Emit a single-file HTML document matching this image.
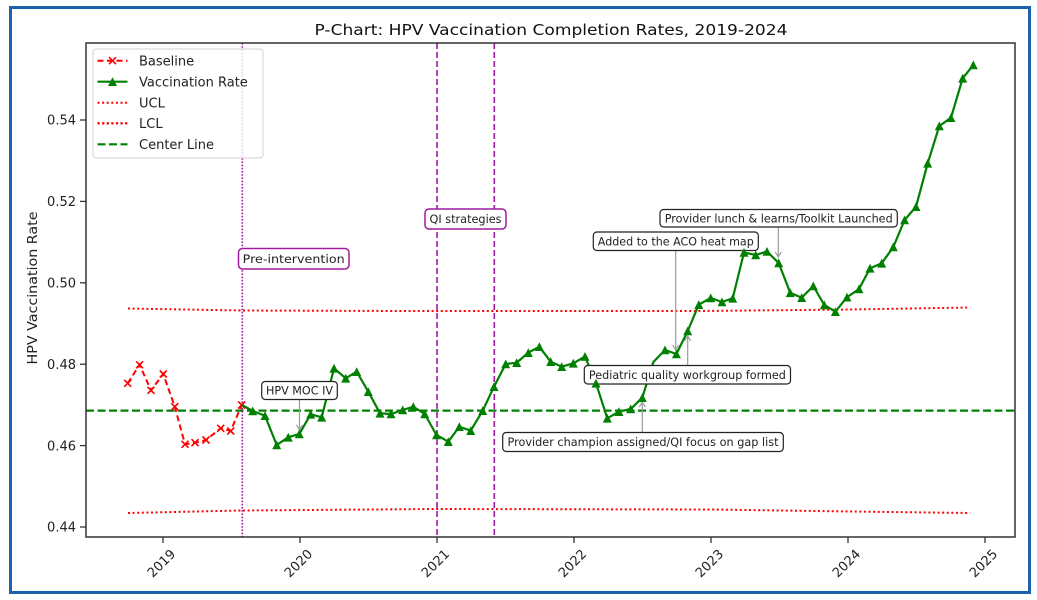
<!DOCTYPE html>
<html><head><meta charset="utf-8"><style>
html,body{margin:0;padding:0;background:#fff;}
svg{display:block;font-family:"DejaVu Sans","Liberation Sans",sans-serif;}
</style></head><body>
<svg width="1037" height="600" viewBox="0 0 1037 600" xmlns="http://www.w3.org/2000/svg">
<rect x="0" y="0" width="1037" height="600" fill="#fff"/>
<!-- blue frame -->
<rect x="10.5" y="7.5" width="1019" height="585" fill="#fff" stroke="#1a64ae" stroke-width="3"/>

<!-- title -->
<text x="551" y="35" font-size="15" text-anchor="middle" fill="#111" textLength="473" lengthAdjust="spacingAndGlyphs">P-Chart: HPV Vaccination Completion Rates, 2019-2024</text>

<!-- control limits -->
<polyline points="128,308.5 242,310.5 400,311 700,311 850,309.5 970,307.5" fill="none" stroke="#ff0000" stroke-width="2" stroke-dasharray="2 2.6"/>
<polyline points="128,513 242,510.5 436,509 711,509.5 850,511.5 970,513" fill="none" stroke="#ff0000" stroke-width="2" stroke-dasharray="2 2.6"/>
<!-- center line -->
<line x1="86" y1="410.6" x2="1015" y2="410.6" stroke="#008000" stroke-width="2.2" stroke-dasharray="8 3.5"/>

<!-- vertical lines -->
<line x1="242.3" y1="43" x2="242.3" y2="537" stroke="#a01a9e" stroke-width="1.6" stroke-dasharray="1.6 1.6"/>
<line x1="437" y1="43" x2="437" y2="537" stroke="#a01a9e" stroke-width="1.6" stroke-dasharray="6 3"/>
<line x1="494.3" y1="43" x2="494.3" y2="537" stroke="#a01a9e" stroke-width="1.6" stroke-dasharray="6 3"/>

<!-- baseline series -->
<polyline points="127.7,383.3 139.6,364.8 151,390.3 163.3,374 174.8,406.7 185,444.3 195,442.7 206,440 220.7,428.3 230.7,431 241.7,405" fill="none" stroke="#ff0000" stroke-width="2" stroke-dasharray="6 3.5"/>
<g stroke="#ff0000" stroke-width="1.6" fill="none">
<path d="M124.2,379.8l7,7m0,-7l-7,7"/>
<path d="M136.1,361.3l7,7m0,-7l-7,7"/>
<path d="M147.5,386.8l7,7m0,-7l-7,7"/>
<path d="M159.8,370.5l7,7m0,-7l-7,7"/>
<path d="M171.3,403.2l7,7m0,-7l-7,7"/>
<path d="M181.5,440.8l7,7m0,-7l-7,7"/>
<path d="M191.5,439.2l7,7m0,-7l-7,7"/>
<path d="M202.5,436.5l7,7m0,-7l-7,7"/>
<path d="M217.2,424.8l7,7m0,-7l-7,7"/>
<path d="M227.2,427.5l7,7m0,-7l-7,7"/>
<path d="M238.2,401.5l7,7m0,-7l-7,7"/>
</g>

<!-- vaccination series -->
<g id="vs">
<polyline id="vl" points="242,405 252.7,411 265,415.7 276.7,445 288.3,437.3 299.3,434 310.7,414.3 321.7,417.3 334,368.3 345.7,378.3 356.7,371.7 368.3,391.7 380,413.3 391,414 402.7,410 413.3,406.7 424.7,414 436.5,435 448.3,441.7 459.3,426.7 470.7,430.7 482.7,410.7 494,386.7 505.7,364 516.7,362.7 528.3,352.7 539.3,346.7 550.7,361.7 561.7,366.7 573.3,363.3 585,356.5 596,383.3 607.3,418.3 619,411.7 630.7,409 642.3,397.7 653.4,362 665,350 676.4,354 687.7,331 698.8,304.7 710.7,298 722,302 732.7,298.3 744,252.5 755.7,255 767,251.5 778.7,263 790.2,292.8 801.7,297.7 813.3,286 824.3,305 835.4,311.7 847,297.2 859,289 870,268.3 881.7,263.3 893.3,247 904.6,220 916,206.7 927.7,163.3 939.3,126 951,117.7 962.7,78.3 973.3,65" fill="none" stroke="#008000" stroke-width="2.2"/>
</g>
<g fill="#008000" id="tri"></g>

<!-- axes spines -->
<rect x="86" y="43" width="929" height="494" fill="none" stroke="#333" stroke-width="1.5"/>
<!-- y ticks -->
<g stroke="#333" stroke-width="1.3">
<line x1="80" y1="527" x2="86" y2="527"/>
<line x1="80" y1="445.6" x2="86" y2="445.6"/>
<line x1="80" y1="364.2" x2="86" y2="364.2"/>
<line x1="80" y1="282.8" x2="86" y2="282.8"/>
<line x1="80" y1="201.4" x2="86" y2="201.4"/>
<line x1="80" y1="120" x2="86" y2="120"/>
<line x1="163" y1="537" x2="163" y2="543"/>
<line x1="300" y1="537" x2="300" y2="543"/>
<line x1="437" y1="537" x2="437" y2="543"/>
<line x1="574" y1="537" x2="574" y2="543"/>
<line x1="711" y1="537" x2="711" y2="543"/>
<line x1="848" y1="537" x2="848" y2="543"/>
<line x1="985" y1="537" x2="985" y2="543"/>
</g>
<g font-size="13" fill="#222" text-anchor="end">
<text x="76" y="531.7">0.44</text>
<text x="76" y="450.3">0.46</text>
<text x="76" y="368.9">0.48</text>
<text x="76" y="287.5">0.50</text>
<text x="76" y="206.1">0.52</text>
<text x="76" y="124.7">0.54</text>
</g>
<g font-size="13" fill="#222" text-anchor="middle" dominant-baseline="central">
<text transform="translate(162,564) rotate(-45)">2019</text>
<text transform="translate(299,564) rotate(-45)">2020</text>
<text transform="translate(436,564) rotate(-45)">2021</text>
<text transform="translate(573,564) rotate(-45)">2022</text>
<text transform="translate(710,564) rotate(-45)">2023</text>
<text transform="translate(847,564) rotate(-45)">2024</text>
<text transform="translate(984,564) rotate(-45)">2025</text>
</g>
<text transform="translate(37,288) rotate(-90)" font-size="13" fill="#222" text-anchor="middle" textLength="153" lengthAdjust="spacingAndGlyphs">HPV Vaccination Rate</text>

<!-- annotation arrows -->
<g stroke="#9a9a9a" stroke-width="1.2" fill="none">
<line x1="299.5" y1="399" x2="299.5" y2="430"/><path d="M296.5,425l3,5l3,-5"/>
<line x1="675.7" y1="250" x2="675.7" y2="350"/><path d="M672.7,345l3,5l3,-5"/>
<line x1="778.3" y1="227" x2="778.3" y2="257"/><path d="M775.3,252l3,5l3,-5"/>
<line x1="687.7" y1="365.5" x2="687.7" y2="336"/><path d="M684.7,341l3,-5l3,5"/>
<line x1="642.3" y1="432.5" x2="642.3" y2="402"/><path d="M639.3,407l3,-5l3,5"/>
</g>

<!-- annotation boxes -->
<g font-size="11.5" fill="#222" text-anchor="middle">
<rect x="238.5" y="248.5" width="110.5" height="20.5" rx="4" fill="#fff" stroke="#a01a9e" stroke-width="1.5"/>
<text x="293.7" y="263" textLength="102" lengthAdjust="spacingAndGlyphs">Pre-intervention</text>
<rect x="425" y="209" width="81" height="20" rx="4" fill="#fff" stroke="#a01a9e" stroke-width="1.5"/>
<text x="465.5" y="223.2" textLength="72" lengthAdjust="spacingAndGlyphs">QI strategies</text>
<rect x="261.7" y="381.5" width="75.6" height="18" rx="3.5" fill="#fff" stroke="#222" stroke-width="1.2"/>
<text x="299.5" y="394.6" textLength="67" lengthAdjust="spacingAndGlyphs">HPV MOC IV</text>
<rect x="593.3" y="232" width="165" height="18.5" rx="3.5" fill="#fff" stroke="#222" stroke-width="1.2"/>
<text x="675.8" y="245.4" textLength="156" lengthAdjust="spacingAndGlyphs">Added to the ACO heat map</text>
<rect x="660" y="209.5" width="237.3" height="17.5" rx="3.5" fill="#fff" stroke="#222" stroke-width="1.2"/>
<text x="778.7" y="222.4" textLength="228" lengthAdjust="spacingAndGlyphs">Provider lunch &amp; learns/Toolkit Launched</text>
<rect x="584.3" y="365.5" width="206.2" height="18.5" rx="3.5" fill="#fff" stroke="#222" stroke-width="1.2"/>
<text x="687.4" y="378.9" textLength="197" lengthAdjust="spacingAndGlyphs">Pediatric quality workgroup formed</text>
<rect x="502.7" y="432.5" width="280.6" height="19" rx="3.5" fill="#fff" stroke="#222" stroke-width="1.2"/>
<text x="643" y="446.2" textLength="271" lengthAdjust="spacingAndGlyphs">Provider champion assigned/QI focus on gap list</text>
</g>

<!-- legend -->
<rect x="93" y="49" width="170" height="109" rx="3" fill="#fff" fill-opacity="0.82" stroke="#d0d0d0" stroke-width="1"/>
<line x1="97.5" y1="60.7" x2="127.5" y2="60.7" stroke="#ff0000" stroke-width="2" stroke-dasharray="6 3.5"/>
<path d="M109,57.2l7,7m0,-7l-7,7" stroke="#ff0000" stroke-width="1.6"/>
<line x1="97.5" y1="81.7" x2="127.5" y2="81.7" stroke="#008000" stroke-width="2.2"/>
<polygon points="112.5,77.2 108,86 117,86" fill="#008000"/>
<line x1="97.5" y1="102.7" x2="127.5" y2="102.7" stroke="#ff0000" stroke-width="2" stroke-dasharray="2 2.6"/>
<line x1="97.5" y1="123.3" x2="127.5" y2="123.3" stroke="#ff0000" stroke-width="2.4" stroke-dasharray="2.2 2.4"/>
<line x1="97.5" y1="144.3" x2="127.5" y2="144.3" stroke="#008000" stroke-width="2.2" stroke-dasharray="8 3.5"/>
<g font-size="13" fill="#222">
<text x="139" y="65.3">Baseline</text>
<text x="139" y="86.3">Vaccination Rate</text>
<text x="139" y="107.3">UCL</text>
<text x="139" y="128">LCL</text>
<text x="139" y="149">Center Line</text>
</g>

<!-- triangles (explicit) -->
<g fill="#008000">
<polygon points="252.7,406.5 248.2,415.3 257.2,415.3"/>
<polygon points="265,411.2 260.5,420 269.5,420"/>
<polygon points="276.7,440.5 272.2,449.3 281.2,449.3"/>
<polygon points="288.3,432.8 283.8,441.6 292.8,441.6"/>
<polygon points="299.3,429.5 294.8,438.3 303.8,438.3"/>
<polygon points="310.7,409.8 306.2,418.6 315.2,418.6"/>
<polygon points="321.7,412.8 317.2,421.6 326.2,421.6"/>
<polygon points="334,363.8 329.5,372.6 338.5,372.6"/>
<polygon points="345.7,373.8 341.2,382.6 350.2,382.6"/>
<polygon points="356.7,367.2 352.2,376 361.2,376"/>
<polygon points="368.3,387.2 363.8,396 372.8,396"/>
<polygon points="380,408.8 375.5,417.6 384.5,417.6"/>
<polygon points="391,409.5 386.5,418.3 395.5,418.3"/>
<polygon points="402.7,405.5 398.2,414.3 407.2,414.3"/>
<polygon points="413.3,402.2 408.8,411 417.8,411"/>
<polygon points="424.7,409.5 420.2,418.3 429.2,418.3"/>
<polygon points="436.5,430.5 432,439.3 441,439.3"/>
<polygon points="448.3,437.2 443.8,446 452.8,446"/>
<polygon points="459.3,422.2 454.8,431 463.8,431"/>
<polygon points="470.7,426.2 466.2,435 475.2,435"/>
<polygon points="482.7,406.2 478.2,415 487.2,415"/>
<polygon points="494,382.2 489.5,391 498.5,391"/>
<polygon points="505.7,359.5 501.2,368.3 510.2,368.3"/>
<polygon points="516.7,358.2 512.2,367 521.2,367"/>
<polygon points="528.3,348.2 523.8,357 532.8,357"/>
<polygon points="539.3,342.2 534.8,351 543.8,351"/>
<polygon points="550.7,357.2 546.2,366 555.2,366"/>
<polygon points="561.7,362.2 557.2,371 566.2,371"/>
<polygon points="573.3,358.8 568.8,367.6 577.8,367.6"/>
<polygon points="585,352 580.5,360.8 589.5,360.8"/>
<polygon points="596,378.8 591.5,387.6 600.5,387.6"/>
<polygon points="607.3,413.8 602.8,422.6 611.8,422.6"/>
<polygon points="619,407.2 614.5,416 623.5,416"/>
<polygon points="630.7,404.5 626.2,413.3 635.2,413.3"/>
<polygon points="642.3,393.2 637.8,402 646.8,402"/>
<polygon points="665,345.5 660.5,354.3 669.5,354.3"/>
<polygon points="676.4,349.5 671.9,358.3 680.9,358.3"/>
<polygon points="687.7,326.5 683.2,335.3 692.2,335.3"/>
<polygon points="698.8,300.2 694.3,309 703.3,309"/>
<polygon points="710.7,293.5 706.2,302.3 715.2,302.3"/>
<polygon points="722,297.5 717.5,306.3 726.5,306.3"/>
<polygon points="732.7,293.8 728.2,302.6 737.2,302.6"/>
<polygon points="744,248 739.5,256.8 748.5,256.8"/>
<polygon points="755.7,250.5 751.2,259.3 760.2,259.3"/>
<polygon points="767,247 762.5,255.8 771.5,255.8"/>
<polygon points="778.7,258.5 774.2,267.3 783.2,267.3"/>
<polygon points="790.2,288.3 785.7,297.1 794.7,297.1"/>
<polygon points="801.7,293.2 797.2,302 806.2,302"/>
<polygon points="813.3,281.5 808.8,290.3 817.8,290.3"/>
<polygon points="824.3,300.5 819.8,309.3 828.8,309.3"/>
<polygon points="835.4,307.2 830.9,316 839.9,316"/>
<polygon points="847,292.7 842.5,301.5 851.5,301.5"/>
<polygon points="859,284.5 854.5,293.3 863.5,293.3"/>
<polygon points="870,263.8 865.5,272.6 874.5,272.6"/>
<polygon points="881.7,258.8 877.2,267.6 886.2,267.6"/>
<polygon points="893.3,242.5 888.8,251.3 897.8,251.3"/>
<polygon points="904.6,215.5 900.1,224.3 909.1,224.3"/>
<polygon points="916,202.2 911.5,211 920.5,211"/>
<polygon points="927.7,158.8 923.2,167.6 932.2,167.6"/>
<polygon points="939.3,121.5 934.8,130.3 943.8,130.3"/>
<polygon points="951,113.2 946.5,122 955.5,122"/>
<polygon points="962.7,73.8 958.2,82.6 967.2,82.6"/>
<polygon points="973.3,60.5 968.8,69.3 977.8,69.3"/>
</g>
</svg>
</body></html>
